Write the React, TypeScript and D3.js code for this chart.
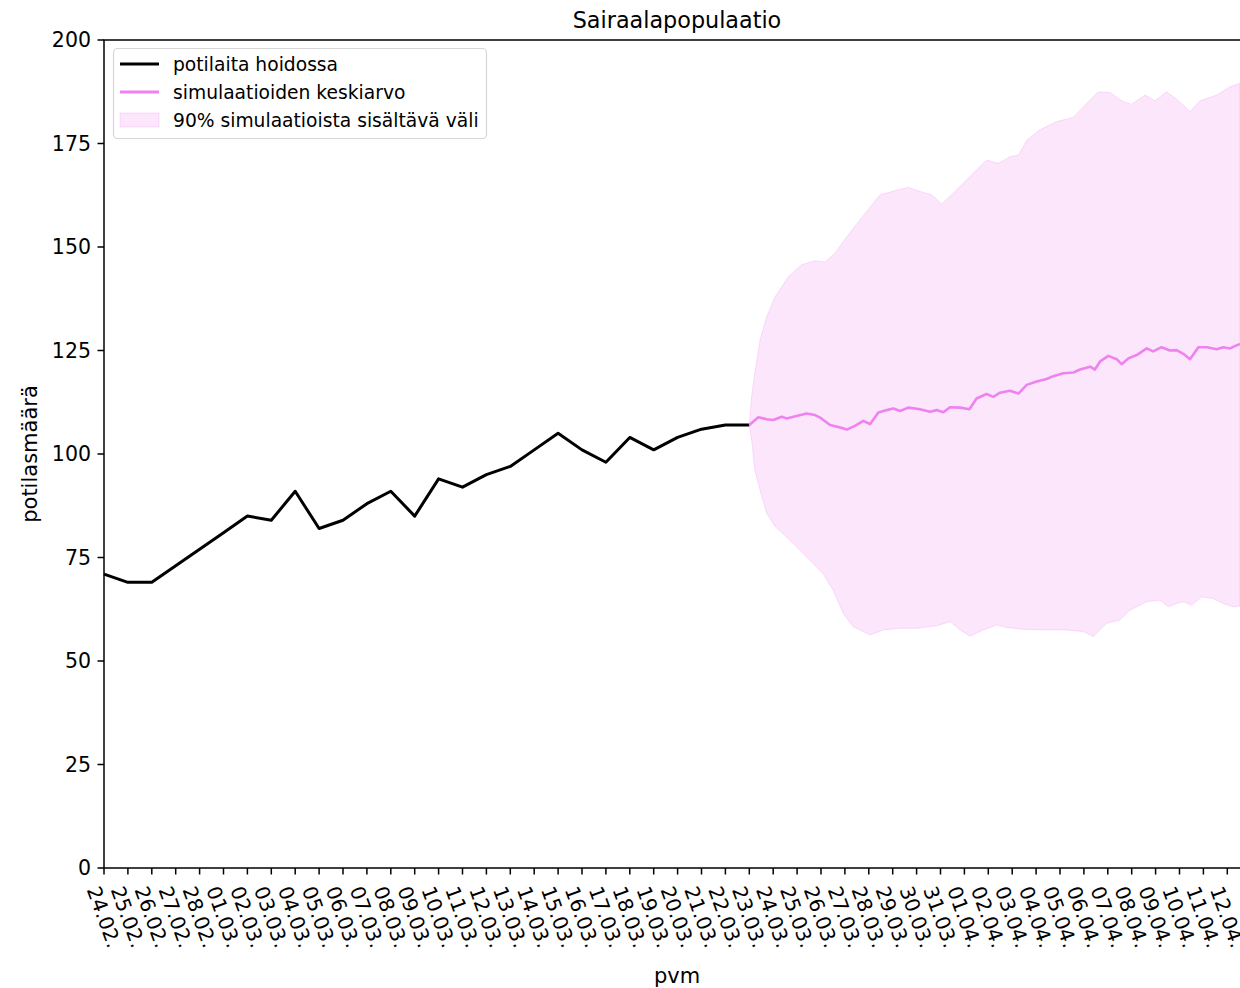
import React, { useRef, useEffect } from 'react';
import * as d3 from 'd3';

// x tick labels, one per day starting 24.02.
const dateLabels = [
    '24.02.', '25.02.', '26.02.', '27.02.', '28.02.',
    '01.03.', '02.03.', '03.03.', '04.03.', '05.03.', '06.03.', '07.03.', '08.03.', '09.03.', '10.03.',
    '11.03.', '12.03.', '13.03.', '14.03.', '15.03.', '16.03.', '17.03.', '18.03.', '19.03.', '20.03.',
    '21.03.', '22.03.', '23.03.', '24.03.', '25.03.', '26.03.', '27.03.', '28.03.', '29.03.', '30.03.',
    '31.03.', '01.04.', '02.04.', '03.04.', '04.04.', '05.04.', '06.04.', '07.04.', '08.04.', '09.04.',
    '10.04.', '11.04.', '12.04.'
];

// patients in care, daily 24.02. - 23.03.
const observed = [
    71, 69, 69, 73, 77, 81, 85, 84, 91, 82, 84, 88, 91, 85, 94, 92, 95, 97, 101, 105,
    101, 98, 104, 101, 104, 106, 107, 107
];

// simulation mean (days since 24.02.)
const meanDays = [
    27.0, 27.38, 27.73, 28.0, 28.36, 28.56, 28.98, 29.4, 29.75, 29.96, 30.38, 30.8, 31.08, 31.42,
    31.77, 32.05, 32.4, 32.75, 33.03, 33.31, 33.65, 34.14, 34.56, 34.84, 35.12, 35.4, 35.82, 36.21,
    36.51, 36.93, 37.21, 37.49, 37.91, 38.26, 38.61, 39.02, 39.44, 39.72, 40.14, 40.56, 40.84, 41.26,
    41.46, 41.67, 42.02, 42.37, 42.58, 42.86, 43.21, 43.63, 43.9, 44.25, 44.6, 44.88, 45.16, 45.44,
    45.79, 46.14, 46.56, 46.83, 47.11, 47.53
];
const meanValues = [
    107, 108.9, 108.4, 108.2, 109.0, 108.6, 109.2, 109.8, 109.4, 108.8, 107.0, 106.4, 105.9, 106.8,
    108.0, 107.2, 110.0, 110.6, 111.0, 110.4, 111.2, 110.8, 110.2, 110.6, 110.1, 111.3, 111.2, 110.8,
    113.4, 114.5, 113.8, 114.8, 115.3, 114.6, 116.7, 117.5, 118.1, 118.8, 119.5, 119.7, 120.4, 121.1,
    120.4, 122.3, 123.7, 122.9, 121.7, 123.1, 123.9, 125.5, 124.8, 125.8, 125.0, 125.1, 124.2, 122.9,
    125.8, 125.8, 125.3, 125.8, 125.5, 126.6
];

// 90% interval, upper edge
const upperDays = [
    27.0, 27.1, 27.23, 27.45, 27.73, 28.08, 28.63, 29.19, 29.75, 30.17, 30.59, 31.08, 31.84, 32.47,
    33.03, 33.65, 34.21, 34.63, 35.05, 35.53, 36.23, 36.93, 37.42, 37.91, 38.26, 38.61, 39.16, 39.86,
    40.56, 41.12, 41.6, 42.09, 42.65, 43.0, 43.56, 43.97, 44.46, 44.88, 45.44, 45.86, 46.56, 47.11, 47.53
];
const upperValues = [
    107, 114.0, 119.5, 127.5, 133.2, 138.0, 142.8, 145.7, 146.7, 146.4, 148.5, 152.5, 158.1, 162.6,
    163.5, 164.4, 163.3, 162.6, 160.4, 163.0, 167.0, 171.0, 170.2, 171.8, 172.2, 175.8, 178.3, 180.3,
    181.3, 184.7, 187.5, 187.3, 185.1, 184.5, 186.7, 185.3, 187.5, 185.7, 182.7, 185.3, 186.7, 188.7, 189.5
];

// 90% interval, lower edge
const lowerDays = [
    27.0, 27.1, 27.23, 27.45, 27.73, 28.08, 28.7, 29.4, 29.75, 30.08, 30.51, 30.93, 31.35, 32.05,
    32.61, 33.31, 34.0, 34.84, 35.4, 35.82, 36.23, 36.79, 37.35, 37.77, 38.61, 39.44, 40.28, 40.97,
    41.39, 41.95, 42.51, 42.93, 43.63, 44.18, 44.53, 44.88, 45.16, 45.51, 45.93, 46.41, 46.83, 47.25, 47.53
];
const lowerValues = [
    107, 103.4, 96.1, 91.3, 85.7, 82.5, 79.2, 75.2, 73.0, 71.2, 67.1, 61.5, 58.3, 56.3,
    57.5, 57.9, 57.9, 58.5, 59.5, 57.5, 56.0, 57.5, 58.7, 58.1, 57.6, 57.5, 57.5, 57.1,
    55.9, 59.1, 59.9, 62.3, 64.3, 64.7, 63.1, 63.9, 64.3, 63.5, 65.5, 65.1, 63.9, 63.1, 63.3
];

const yTicks = [0, 25, 50, 75, 100, 125, 150, 175, 200];

const legendItems = [
    { label: 'potilaita hoidossa', kind: 'line', color: '#000000' },
    { label: 'simulaatioiden keskiarvo', kind: 'line', color: '#ee82ee' },
    { label: '90% simulaatioista sisältävä väli', kind: 'patch', color: '#ee82ee' }
];

const App = () => {
    const svgRef = useRef(null);
    const width = 1240;
    const height = 988;

    useEffect(() => {
        if (!svgRef.current) return;
        const svg = d3.select(svgRef.current);
        svg.selectAll('*').remove();

        const left = 104, right = 1250, top = 40, bottom = 868;
        const font = 'DejaVu Sans, Verdana, sans-serif';

        const x = d3.scaleLinear().domain([0, 47.95]).range([left, right]);
        const y = d3.scaleLinear().domain([0, 200]).range([bottom, top]);

        // band: upper edge forward, lower edge back
        const bandPts = upperDays.map((d, i) => [d, upperValues[i]])
            .concat(lowerDays.map((d, i) => [d, lowerValues[i]]).reverse());
        const bandLine = d3.line().x(d => x(d[0])).y(d => y(d[1]));
        svg.append('path')
            .attr('d', bandLine(bandPts) + 'Z')
            .attr('fill', '#ee82ee')
            .attr('fill-opacity', 0.2)
            .attr('stroke', '#ee82ee')
            .attr('stroke-opacity', 0.25)
            .attr('stroke-width', 1);

        const obsLine = d3.line().x((d, i) => x(i)).y(d => y(d));
        svg.append('path')
            .attr('d', obsLine(observed))
            .attr('fill', 'none')
            .attr('stroke', '#000')
            .attr('stroke-width', 3)
            .attr('stroke-linejoin', 'round');

        const meanLine = d3.line().x((d, i) => x(meanDays[i])).y(d => y(d));
        svg.append('path')
            .attr('d', meanLine(meanValues))
            .attr('fill', 'none')
            .attr('stroke', '#ee82ee')
            .attr('stroke-width', 2.6)
            .attr('stroke-linejoin', 'round');

        // spines
        svg.append('rect')
            .attr('x', left).attr('y', top)
            .attr('width', right - left).attr('height', bottom - top)
            .attr('fill', 'none').attr('stroke', '#000').attr('stroke-width', 1.5);

        // y axis
        const yAxis = svg.append('g');
        yTicks.forEach(t => {
            yAxis.append('line')
                .attr('x1', left - 6.5).attr('x2', left)
                .attr('y1', y(t)).attr('y2', y(t))
                .attr('stroke', '#000').attr('stroke-width', 1.5);
            yAxis.append('text')
                .attr('x', left - 13).attr('y', y(t))
                .attr('text-anchor', 'end')
                .attr('dominant-baseline', 'central')
                .style('font-family', font).style('font-size', '20.5px')
                .attr('fill', '#000')
                .text(t);
        });

        // x axis
        const xAxis = svg.append('g');
        dateLabels.forEach((lab, i) => {
            const tx = x(i);
            xAxis.append('line')
                .attr('x1', tx).attr('x2', tx)
                .attr('y1', bottom).attr('y2', bottom + 6.5)
                .attr('stroke', '#000').attr('stroke-width', 1.5);
            xAxis.append('text')
                .attr('transform', `translate(${tx},${bottom + 49}) rotate(70)`)
                .attr('text-anchor', 'middle')
                .attr('dominant-baseline', 'central')
                .style('font-family', font).style('font-size', '20px')
                .attr('fill', '#000')
                .text(lab);
        });

        svg.append('text')
            .attr('x', (left + right) / 2).attr('y', 28)
            .attr('text-anchor', 'middle')
            .style('font-family', font).style('font-size', '22.3px')
            .text('Sairaalapopulaatio');

        svg.append('text')
            .attr('x', (left + right) / 2).attr('y', 983)
            .attr('text-anchor', 'middle')
            .style('font-family', font).style('font-size', '21px')
            .text('pvm');

        svg.append('text')
            .attr('transform', `translate(37,${(top + bottom) / 2}) rotate(-90)`)
            .attr('text-anchor', 'middle')
            .style('font-family', font).style('font-size', '21px')
            .text('potilasmäärä');

        // legend
        const lg = svg.append('g');
        lg.append('rect')
            .attr('x', 113.5).attr('y', 48.5).attr('width', 373).attr('height', 90)
            .attr('rx', 4)
            .attr('fill', '#fff').attr('fill-opacity', 0.8)
            .attr('stroke', '#d6d6d6').attr('stroke-width', 1.2);
        legendItems.forEach((item, i) => {
            const cy = 64 + i * 28;
            if (item.kind === 'line') {
                lg.append('line')
                    .attr('x1', 120).attr('x2', 159).attr('y1', cy).attr('y2', cy)
                    .attr('stroke', item.color).attr('stroke-width', 3);
            } else {
                lg.append('rect')
                    .attr('x', 120).attr('y', cy - 7).attr('width', 39).attr('height', 14)
                    .attr('fill', item.color).attr('fill-opacity', 0.2)
                    .attr('stroke', item.color).attr('stroke-opacity', 0.25);
            }
            lg.append('text')
                .attr('x', 173).attr('y', cy)
                .attr('dominant-baseline', 'central')
                .style('font-family', font).style('font-size', '18.7px')
                .attr('fill', '#000')
                .text(item.label);
        });
    }, []);

    return (
        <svg ref={svgRef} width={width} height={height}
            style={{ position: 'absolute', left: 0, top: 0, background: '#fff' }}></svg>
    );
};

export default App;
